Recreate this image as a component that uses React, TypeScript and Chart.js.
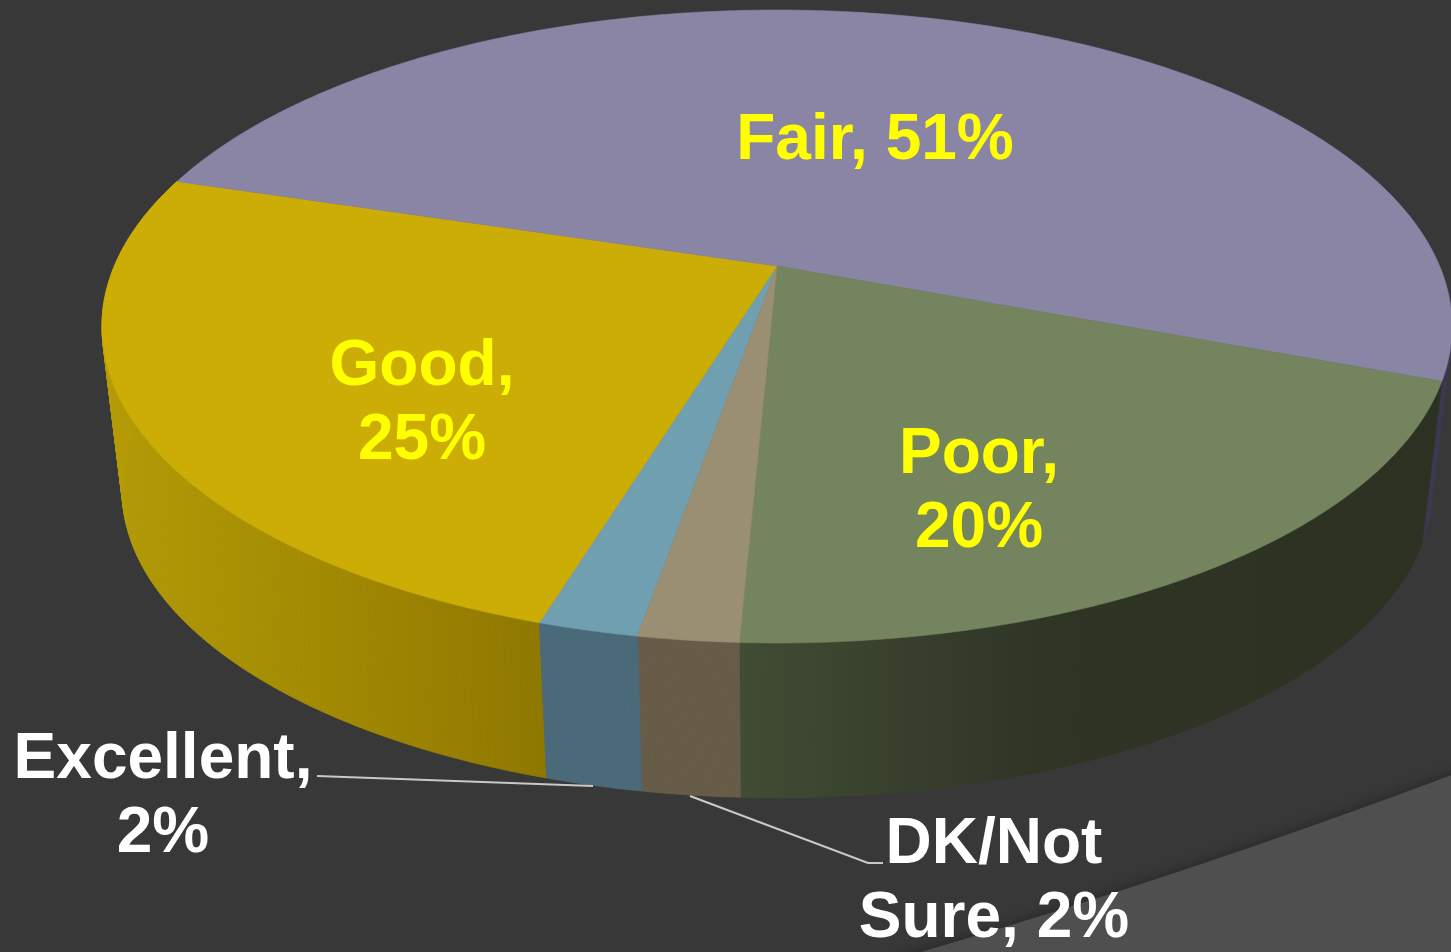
import React, { useEffect, useRef } from "react";
import { Chart, registerables } from "chart.js";

Chart.register(...registerables);

const categories = ["Excellent", "Good", "Fair", "Poor", "DK/Not Sure"];
const shares = [2, 25, 51, 20, 2];
const topColors = ["#6f9fb1", "#cbad05", "#8a85a5", "#73845e", "#9a8f72"];
// Side wall: [colour at left end, colour at right end]
const sideColors = [
  ["#4a6a79", "#4a6a79"],
  ["#b59c06", "#8f7800"],
  ["#3a3950", "#3a3950"],
  ["#414c34", "#2d3122"],
  ["#665c48", "#665c48"],
];
const labelLines = [
  ["Excellent,", "2%"],
  ["Good,", "25%"],
  ["Fair, 51%"],
  ["Poor,", "20%"],
  ["DK/Not", "Sure, 2%"],
];

const W = 1451;
const H = 952;
const firstSliceRotation = 189.84;

// Perspective of the disc
const view = { x0: 777, yTop: 266, yBottom: 432, a: 662.6, b: 304.9, k: -0.1912, bottomScale: 0.97 };
const labelLayout = [
  { x: 163, y: 778, color: "#ffffff" },
  { x: 422, y: 385, color: "#ffff00" },
  { x: 875, y: 159, color: "#ffff00" },
  { x: 979, y: 473, color: "#ffff00" },
  { x: 994, y: 863, color: "#ffffff" },
];
const leaders = [
  [[317, 776], [593, 786]],
  [[690, 796], [868, 863], [883, 863]],
];

function project(u: number, v: number, bottom: boolean) {
  const s = bottom ? view.bottomScale : 1;
  const cy = bottom ? view.yBottom : view.yTop;
  const w = 1 + view.k * v;
  return { x: view.x0 + (s * view.a * u) / w, y: cy + (s * view.b * v) / w };
}

function arcPoints(start: number, end: number, bottom: boolean) {
  const n = Math.max(6, Math.ceil((end - start) / 0.01));
  const pts = [];
  for (let i = 0; i <= n; i++) {
    const t = start + ((end - start) * i) / n;
    pts.push(project(Math.cos(t), Math.sin(t), bottom));
  }
  return pts;
}

const piePerspective = {
  id: "piePerspective",
  beforeDraw(chart: any) {
    const ctx = chart.ctx;
    ctx.save();
    ctx.fillStyle = "#383838";
    ctx.fillRect(0, 0, W, H);
    ctx.beginPath();
    ctx.moveTo(W + 30, 764);
    ctx.quadraticCurveTo(1186, 876, 900, 958);
    ctx.lineTo(900, H + 40);
    ctx.lineTo(W + 30, H + 40);
    ctx.closePath();
    ctx.shadowColor = "rgba(0,0,0,0.35)";
    ctx.shadowBlur = 14;
    ctx.fillStyle = "#4f4f4f";
    ctx.fill();
    ctx.restore();
  },
  beforeDatasetDraw(chart: any) {
    const ctx = chart.ctx;
    const arcs = chart.getDatasetMeta(0).data;
    // Back wall first, then the walls in front of it
    const order = [2, 1, 3, 4, 0];
    ctx.save();
    ctx.lineWidth = 0.8;
    for (const i of order) {
      const a = arcs[i];
      const top = arcPoints(a.startAngle, a.endAngle, false);
      const bot = arcPoints(a.startAngle, a.endAngle, true);
      const xs = top.concat(bot).map((p) => p.x);
      const g = ctx.createLinearGradient(Math.min(...xs), 0, Math.max(...xs), 0);
      g.addColorStop(0, sideColors[i][0]);
      if (i === 3) g.addColorStop(0.45, "#2f3425");
      g.addColorStop(1, sideColors[i][1]);
      ctx.fillStyle = g;
      ctx.strokeStyle = g;
      for (let j = 0; j < top.length - 1; j++) {
        ctx.beginPath();
        ctx.moveTo(top[j].x, top[j].y);
        ctx.lineTo(top[j + 1].x, top[j + 1].y);
        ctx.lineTo(bot[j + 1].x, bot[j + 1].y);
        ctx.lineTo(bot[j].x, bot[j].y);
        ctx.closePath();
        ctx.fill();
        ctx.stroke();
      }
    }
    arcs.forEach((a: any, i: number) => {
      const c = project(0, 0, false);
      ctx.beginPath();
      ctx.moveTo(c.x, c.y);
      arcPoints(a.startAngle, a.endAngle, false).forEach((p) => ctx.lineTo(p.x, p.y));
      ctx.closePath();
      ctx.fillStyle = topColors[i];
      ctx.strokeStyle = topColors[i];
      ctx.lineWidth = 0.6;
      ctx.fill();
      ctx.stroke();
    });
    ctx.restore();
    return false;
  },
  afterDatasetsDraw(chart: any) {
    const ctx = chart.ctx;
    ctx.save();
    ctx.strokeStyle = "#c9c9c9";
    ctx.lineWidth = 2.2;
    for (const line of leaders) {
      ctx.beginPath();
      line.forEach((p, j) => (j ? ctx.lineTo(p[0], p[1]) : ctx.moveTo(p[0], p[1])));
      ctx.stroke();
    }
    ctx.font = 'bold 64px "Liberation Sans", Arial, sans-serif';
    ctx.textAlign = "center";
    ctx.textBaseline = "alphabetic";
    labelLines.forEach((lines, i) => {
      ctx.fillStyle = labelLayout[i].color;
      lines.forEach((t, j) => ctx.fillText(t, labelLayout[i].x, labelLayout[i].y + j * 73.5));
    });
    ctx.restore();
  },
};

export default function App() {
  const ref = useRef<HTMLCanvasElement>(null);
  useEffect(() => {
    const chart = new Chart(ref.current as HTMLCanvasElement, {
      type: "pie",
      data: {
        labels: categories,
        datasets: [{ data: shares, backgroundColor: topColors, borderWidth: 0 }],
      },
      options: {
        animation: false,
        responsive: false,
        rotation: firstSliceRotation,
        plugins: { legend: { display: false }, tooltip: { enabled: false } },
      },
      plugins: [piePerspective],
    } as any);
    return () => chart.destroy();
  }, []);
  return (
    <canvas
      ref={ref}
      width={W}
      height={H}
      style={{ position: "absolute", left: 0, top: 0, width: W, height: H, display: "block" }}
    />
  );
}
